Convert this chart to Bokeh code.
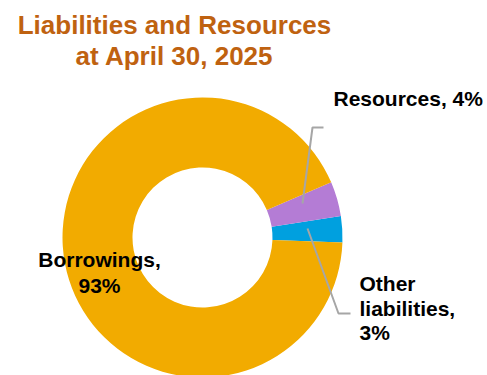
import math
from bokeh.plotting import figure
from bokeh.models import ColumnDataSource
from bokeh.core.properties import value
from bokeh.embed import file_html
from bokeh.resources import INLINE

# ---- data ----
categories = ["Other liabilities", "Resources", "Borrowings"]
shares = [3, 4, 93]
colors = ["#00A0DF", "#B47CD5", "#F2AB00"]
title_lines = ["Liabilities and Resources", "at April 30, 2025"]

W, H = 487, 375
FONT = value("Liberation Sans")

p = figure(width=W, height=H, x_range=(0, W), y_range=(0, H),
           output_backend="svg", toolbar_location=None, min_border=0)
p.axis.visible = False
p.grid.visible = False
p.outline_line_color = None
p.background_fill_color = "white"

cx, cy = 202, 138
r_out, r_in = 140, 70
start0 = math.radians(-2)

total = sum(shares)
starts, ends = [], []
a = start0
for s in shares:
    starts.append(a)
    a += 2 * math.pi * s / total
    ends.append(a)

src = ColumnDataSource(dict(cat=categories, start=starts, end=ends, color=colors))
p.annular_wedge(x=cx, y=cy, inner_radius=r_in, outer_radius=r_out,
                start_angle="start", end_angle="end", color="color",
                line_color=None, source=src)

# leader lines
lead = "#A6A6A6"
p.line([323, 312, 302], [248, 248, 172], line_color=lead, line_width=2)
p.line([307, 338, 350], [147, 62, 62], line_color=lead, line_width=2)

dy = 7
# title
p.text(x=[174, 174], y=[344 + dy, 313 + dy], text=title_lines, text_font=FONT,
       text_font_style="bold", text_font_size="26px", text_color="#BF6210",
       text_align="center", text_baseline="alphabetic")

# labels
p.text(x=[333], y=[270 + dy], text=["Resources, 4%"], text_font=FONT,
       text_font_style="bold", text_font_size="21px", text_color="black",
       text_align="left", text_baseline="alphabetic")
p.text(x=[99, 99], y=[109 + dy, 83 + dy], text=["Borrowings,", "93%"], text_font=FONT,
       text_font_style="bold", text_font_size="21px", text_color="black",
       text_align="center", text_baseline="alphabetic")
p.text(x=[359, 359, 359], y=[85 + dy, 60 + dy, 36 + dy], text=["Other", "liabilities,", "3%"],
       text_font=FONT, text_font_style="bold", text_font_size="21px",
       text_color="black", text_align="left", text_baseline="alphabetic")

open("out.html", "w").write(file_html(p, INLINE))
